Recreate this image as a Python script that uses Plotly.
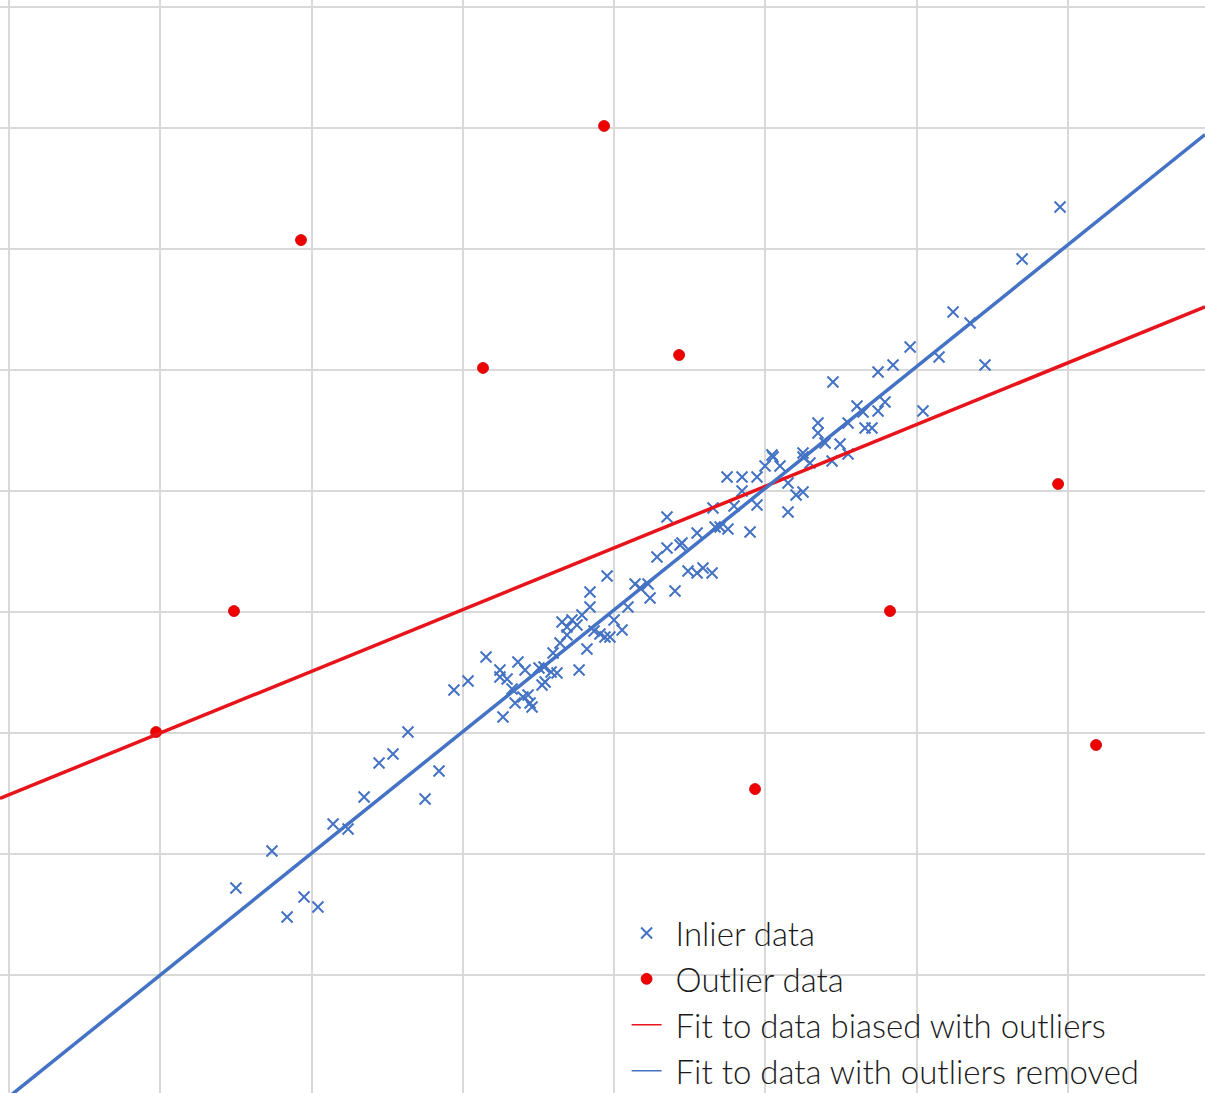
import numpy as np
import plotly.graph_objects as go

# Inlier observations (x, y)
inlier_x = [
    2.637, 2.538, 2.446, 2.842, 2.347, 2.750, 2.142, 2.241, 1.738, 1.500,
    1.950, 2.042, 1.838, 2.941, 3.034, 3.153, 3.245, 3.245, 3.292, 3.364,
    3.411, 3.503, 3.536, 3.583, 3.622, 3.768, 3.523, 3.543, 3.325, 3.345,
    3.397, 3.431, 3.444, 3.457, 3.265, 3.596, 3.642, 3.688, 3.655, 3.721,
    3.754, 3.688, 3.787, 3.840, 3.840, 3.953, 3.820, 3.867, 3.906, 3.939,
    3.972, 3.999, 4.052, 4.091, 4.138, 4.171, 4.224, 4.237, 4.402, 4.349,
    4.283, 4.349, 4.435, 4.448, 4.548, 4.488, 4.548, 4.587, 4.647, 4.653,
    4.667, 4.700, 4.752, 4.792, 4.944, 4.898, 4.845, 4.746, 4.845, 4.944,
    4.997, 5.043, 5.050, 5.096, 5.149, 5.149, 5.202, 5.248, 5.248, 5.248,
    5.294, 5.347, 5.347, 5.394, 5.493, 5.546, 5.440, 5.546, 5.605, 5.645,
    5.658, 5.704, 5.744, 5.790, 5.744, 5.843, 5.956, 6.147, 5.446, 6.041,
    6.451, 6.240, 6.352, 6.696, 6.947,
]
inlier_y = [
    3.008, 2.826, 2.752, 2.686, 2.471, 2.455, 2.248, 2.207, 2.025, 1.719,
    1.645, 1.562, 1.479, 3.355, 3.430, 3.628, 3.521, 3.463, 3.446, 3.587,
    3.521, 3.537, 3.545, 3.504, 3.496, 3.521, 3.397, 3.421, 3.364, 3.248,
    3.298, 3.314, 3.248, 3.215, 3.132, 3.661, 3.744, 3.810, 3.917, 3.934,
    3.893, 3.876, 3.975, 4.041, 4.165, 4.298, 3.694, 3.843, 3.818, 3.793,
    3.793, 3.934, 3.851, 4.041, 4.231, 4.198, 4.231, 4.116, 4.174, 4.785,
    4.455, 4.529, 4.554, 4.570, 4.653, 4.339, 4.322, 4.364, 4.322, 4.860,
    4.702, 4.702, 4.686, 4.876, 4.884, 4.661, 5.000, 5.116, 5.116, 5.116,
    5.207, 5.298, 5.281, 5.207, 5.066, 4.826, 4.967, 4.992, 5.314, 5.281,
    5.231, 5.562, 5.479, 5.397, 5.388, 5.306, 5.248, 5.562, 5.702, 5.653,
    5.521, 5.521, 5.661, 5.736, 5.983, 6.041, 6.190, 6.107, 5.901, 5.661,
    6.041, 6.479, 6.388, 6.917, 7.347,
]

# Outlier observations (x, y)
outlier_x = [3.933, 1.930, 3.133, 4.429, 6.934, 1.487, 5.823, 0.972, 4.931, 7.185]
outlier_y = [8.017, 7.074, 6.017, 6.124, 5.058, 4.008, 4.008, 3.008, 2.537, 2.901]

# Linear fits: [slope, intercept]
fit_with_outliers = [0.51, 2.49]
fit_without_outliers = [1.006, -0.006]

legend_labels = [
    "Inlier data",
    "Outlier data",
    "Fit to data biased with outliers",
    "Fit to data with outliers removed",
]

x_range = [-0.0595, 7.905]
y_range = [0.0248, 9.058]

BLUE = "#4472C4"
RED = "#E8141B"
DOT_RED = "#F00000"

xs = np.array(x_range)
pad = "\u00a0"

inlier_marker = dict(symbol="x-thin", size=11, line=dict(color=BLUE, width=2), color=BLUE)
outlier_marker = dict(symbol="circle", size=11, color=DOT_RED, line=dict(color="#C80000", width=0.8))

fig = go.Figure()

# Plotted data and fit lines
fig.add_trace(go.Scatter(x=inlier_x, y=inlier_y, mode="markers",
                         marker=inlier_marker, showlegend=False))
fig.add_trace(go.Scatter(x=outlier_x, y=outlier_y, mode="markers",
                         marker=outlier_marker, showlegend=False))
fig.add_trace(go.Scatter(x=xs, y=fit_with_outliers[0] * xs + fit_with_outliers[1],
                         mode="lines", line=dict(color=RED, width=3.5), showlegend=False))
fig.add_trace(go.Scatter(x=xs, y=fit_without_outliers[0] * xs + fit_without_outliers[1],
                         mode="lines", line=dict(color=BLUE, width=3.5), showlegend=False))

# Legend entries (thin line keys)
fig.add_trace(go.Scatter(x=[None], y=[None], mode="markers", name=pad + legend_labels[0],
                         marker=inlier_marker, legendgroup="a"))
fig.add_trace(go.Scatter(x=[None], y=[None], mode="markers", name=pad + legend_labels[1],
                         marker=outlier_marker, legendgroup="b"))
fig.add_trace(go.Scatter(x=[None], y=[None], mode="lines", name=pad + legend_labels[2],
                         line=dict(color=RED, width=1.5), legendgroup="c"))
fig.add_trace(go.Scatter(x=[None], y=[None], mode="lines", name=pad + legend_labels[3],
                         line=dict(color=BLUE, width=1.5), legendgroup="d"))

axis_common = dict(
    showticklabels=False, ticks="", zeroline=False, showline=False,
    showgrid=True, gridcolor="#D9D9D9", gridwidth=1.5, tick0=0, dtick=1,
)

fig.update_layout(
    width=1205, height=1093,
    margin=dict(l=0, r=0, t=0, b=0, autoexpand=False),
    paper_bgcolor="white", plot_bgcolor="white",
    xaxis=dict(range=x_range, **axis_common),
    yaxis=dict(range=y_range, **axis_common),
    showlegend=True,
    legend=dict(
        x=0.520, y=0.172, xanchor="left", yanchor="top",
        bgcolor="rgba(0,0,0,0)", borderwidth=0,
        font=dict(family="Lato", size=33, color="#1a1a1a", weight=300),
        tracegroupgap=0, itemwidth=30,
    ),
)

fig.write_html("out.html")
